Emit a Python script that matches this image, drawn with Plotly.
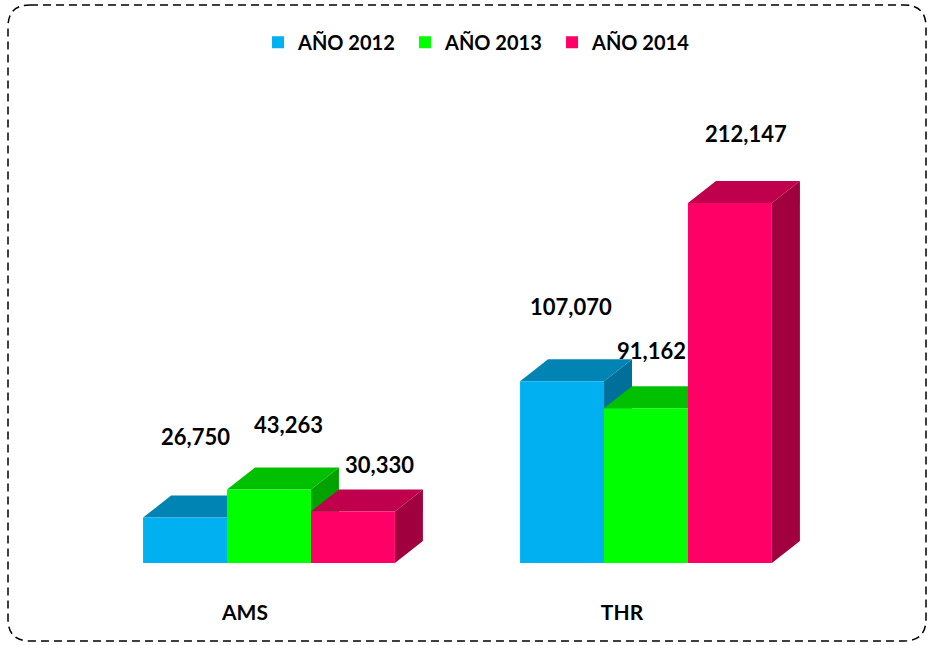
import plotly.graph_objects as go

# ── Data ──────────────────────────────────────────────
categories = ["AMS", "THR"]
series_names = ["AÑO 2012", "AÑO 2013", "AÑO 2014"]
values_2012 = [26750, 107070]
values_2013 = [43263, 91162]
values_2014 = [30330, 212147]
label_text = [["26,750", "107,070"], ["43,263", "91,162"], ["30,330", "212,147"]]

# ── Style ─────────────────────────────────────────────
FRONT = ["#00B0F0", "#00FF00", "#FF0066"]
TOP   = ["#0084B4", "#00C000", "#BF004C"]
SIDE  = ["#00709A", "#00A200", "#A1003F"]

W, H = 931, 645
MARGIN_B = 82                     # baseline at y=563 px
X_RANGE = [-0.7135, 1.756]
Y_MAX = 331800
GROUP_W = 0.668
BAR_W = GROUP_W / 3
DEPTH_X_PX, DEPTH_Y_PX = 28, 22

# label shifts (px) per series / category: (xshift, yshift)
LABEL_SHIFT = [[(10, 81), (9, 75)], [(20, 65), (6, 58)], [(27, 47), (16, 70)]]

plot_h = H - MARGIN_B
dx = DEPTH_X_PX / (W / (X_RANGE[1] - X_RANGE[0]))
dy = DEPTH_Y_PX * Y_MAX / plot_h

all_values = [values_2012, values_2013, values_2014]
cat_pos = list(range(len(categories)))

fig = go.Figure()
shapes = []
annotations = []

for j, (name, vals) in enumerate(zip(series_names, all_values)):
    offset = -GROUP_W / 2 + j * BAR_W
    fig.add_trace(go.Bar(
        x=cat_pos, y=vals, name=name,
        width=BAR_W, offset=offset,
        marker=dict(color=FRONT[j], line=dict(width=0)),
    ))

# depth faces, drawn bar by bar (left to right) under the front faces
for i in cat_pos:
    for j, vals in enumerate(all_values):
        v = vals[i]
        x0 = i - GROUP_W / 2 + j * BAR_W
        x1 = x0 + BAR_W
        top = f"M{x0},{v} L{x1},{v} L{x1 + dx},{v + dy} L{x0 + dx},{v + dy} Z"
        side = f"M{x1},0 L{x1},{v} L{x1 + dx},{v + dy} L{x1 + dx},{dy} Z"
        for path, col in [(side, SIDE[j]), (top, TOP[j])]:
            shapes.append(dict(type="path", path=path, xref="x", yref="y",
                               fillcolor=col, line=dict(width=0), layer="below"))
        xs, ys = LABEL_SHIFT[j][i]
        annotations.append(dict(
            x=(x0 + x1) / 2, y=v, xref="x", yref="y",
            text=f"<b>{label_text[j][i]}</b>", showarrow=False,
            xshift=xs, yshift=ys,
            font=dict(family="Lato", size=22, color="#000000"),
        ))

# dashed rounded border (pixel -> paper)
def px(x):
    return x / W

def py(y):
    return (plot_h - y) / plot_h

L, T, R, B, r = 8, 5, 926, 641, 22
border = (
    f"M{px(L + r)},{py(T)} L{px(R - r)},{py(T)} "
    f"Q{px(R)},{py(T)} {px(R)},{py(T + r)} L{px(R)},{py(B - r)} "
    f"Q{px(R)},{py(B)} {px(R - r)},{py(B)} L{px(L + r)},{py(B)} "
    f"Q{px(L)},{py(B)} {px(L)},{py(B - r)} L{px(L)},{py(T + r)} "
    f"Q{px(L)},{py(T)} {px(L + r)},{py(T)} Z"
)
shapes.append(dict(type="path", path=border, xref="paper", yref="paper",
                   line=dict(color="#000000", width=1.5, dash="8px,5px"),
                   layer="above"))

fig.update_layout(
    width=W, height=H,
    margin=dict(l=0, r=0, t=0, b=MARGIN_B),
    paper_bgcolor="white", plot_bgcolor="white",
    barmode="overlay",
    shapes=shapes,
    annotations=annotations,
    showlegend=True,
    legend=dict(
        orientation="h", x=0.514, xanchor="center", y=0.925, yanchor="middle",
        font=dict(family="Lato", size=20, color="#000000", weight="bold"),
        entrywidth=102, itemwidth=30,
        traceorder="normal",
    ),
    font=dict(family="Lato"),
    xaxis=dict(
        range=X_RANGE, tickvals=cat_pos,
        ticktext=[f"<b>{c}</b>" for c in categories],
        showgrid=False, zeroline=False, showline=False, ticks="",
        ticklabelshift=-24, ticklabelstandoff=35,
        tickfont=dict(family="Lato", size=21, color="#000000"),
        fixedrange=True,
    ),
    yaxis=dict(
        range=[0, Y_MAX], visible=False, showgrid=False, zeroline=False,
        fixedrange=True,
    ),
)

fig.update_traces(hoverinfo="name+y")
fig.write_html(
    "out.html",
    config={"displayModeBar": False},
    post_script="document.body.style.margin='0';",
)
